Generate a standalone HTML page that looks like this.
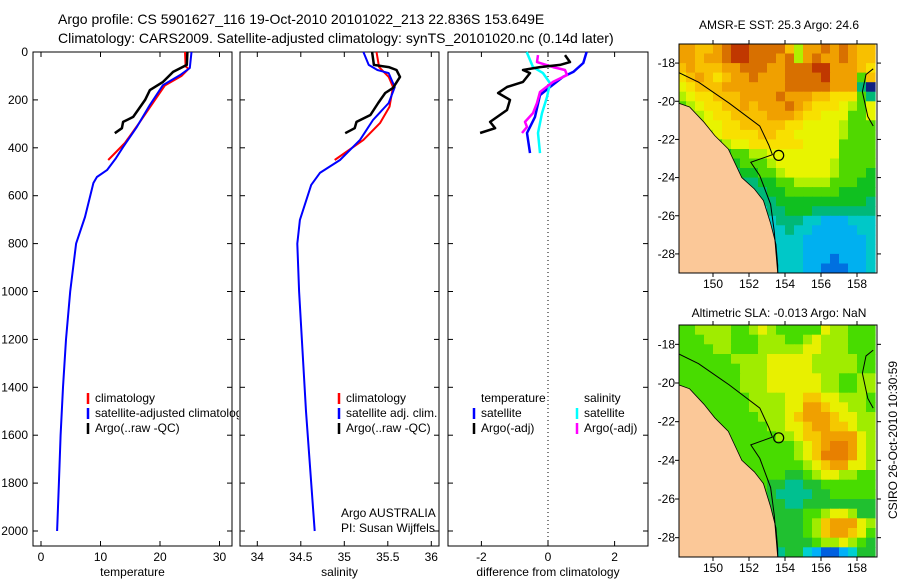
<!DOCTYPE html>
<html><head><meta charset="utf-8"><style>
html,body{margin:0;padding:0;background:#fff;}
svg{display:block;font-family:"Liberation Sans",sans-serif;}
</style></head><body>
<svg id="fig" width="900" height="580" viewBox="0 0 900 580" xmlns="http://www.w3.org/2000/svg">
<text x="58" y="24" font-size="14">Argo profile: CS 5901627_116 19-Oct-2010 20101022_213 22.836S 153.649E</text>
<text x="58" y="43" font-size="14">Climatology: CARS2009. Satellite-adjusted climatology: synTS_20101020.nc (0.14d later)</text>
<text x="779" y="29" font-size="12" text-anchor="middle">AMSR-E SST: 25.3 Argo: 24.6</text>
<text x="779" y="317" font-size="12" text-anchor="middle">Altimetric SLA: -0.013 Argo: NaN</text>
<text transform="translate(897,440) rotate(-90)" font-size="12" text-anchor="middle">CSIRO 26-Oct-2010 10:30:59</text>
<g id="layer"></g>
</svg>
<script>
// ---- profile data ----
const depthTicks = [0,200,400,600,800,1000,1200,1400,1600,1800,2000];
const tempTicks = [0,10,20,30];
const salTicks = [34,34.5,35,35.5,36];
const diffTicks = [-2,0,2];
const tempClimDepth = [0,60,70,100,140,220,300,380,451];
const tempClimVal = [24.2,24.3,24.8,23.6,20.8,18.6,16.4,14.1,11.3];
const tempSatDepth = [0,67,96,138,221,313,397,443,493,522,547,689,800,1000,1200,1400,1600,1800,2000];
const tempSatVal = [25.3,25.0,23.4,20.5,18.3,16.1,13.8,12.6,11.1,9.4,8.8,7.4,5.9,4.9,4.2,3.7,3.3,3.0,2.7];
const tempArgoDepth = [0,54,83,125,159,200,271,292,318,339];
const tempArgoVal = [24.6,24.5,22.2,20.5,18.3,17.5,15.5,13.8,13.6,12.4];
const salClimDepth = [0,63,104,146,229,297,367,451];
const salClimVal = [35.37,35.4,35.51,35.56,35.52,35.41,35.22,34.89];
const salSatDepth = [0,54,75,88,130,146,213,284,367,451,505,555,701,800,1000,1500,2000];
const salSatVal = [35.22,35.28,35.38,35.51,35.56,35.58,35.51,35.33,35.18,34.95,34.72,34.62,34.49,34.46,34.48,34.56,34.66];
const salArgoDepth = [0,54,63,75,104,150,171,213,263,292,318,339];
const salArgoVal = [35.32,35.34,35.51,35.6,35.64,35.56,35.47,35.39,35.3,35.14,35.12,35.01];
const dTempSatDepth = [0,46,83,104,146,180,271,338,422];
const dTempSatVal = [1.16,1.06,0.76,0.45,0.06,-0.24,-0.39,-0.63,-0.54];
const dSalSatDepth = [0,63,88,130,188,255,338,422];
const dSalSatVal = [-0.64,-0.45,-0.15,0.06,-0.03,-0.18,-0.3,-0.24];
const dSalArgoDepth = [13,42,63,75,96,125,167,213,255,292,313,338];
const dSalArgoVal = [-0.3,-0.33,0.15,0.51,0.57,0.15,-0.24,-0.33,-0.45,-0.69,-0.63,-0.78];
const dTempArgoDepth = [13,42,54,63,75,88,125,146,171,200,242,292,318,338];
const dTempArgoVal = [0.51,0.66,0.36,-0.24,-0.75,-0.54,-0.75,-1.23,-1.5,-1.14,-1.23,-1.74,-1.59,-2.04];
// ---- map data (0.5 deg cells, lon 148..159, lat -17..-29) ----
const mapLonTicks = [150,152,154,156,158];
const mapLatTicks = [-18,-20,-22,-24,-26,-28];
const argoLon = 153.649, argoLat = -22.836;
const sstGrid = [
"ccddcbaabbbbdgccbcbcdd","ccdccbaabbbcbgcbccbcdd","dcdddccbbbccbbbaacccde","edcdedccbcccbbbbaccchd",
"fedddcccccccbbbbbcccjn","gfeedddccccbcccddeeehj","hgfeeddcdcccbcdeeefghf","hggfeeddddcccdeefffhhf",
"hhgffeedddddeeffffghhh","hhhgfeeeeddeefffffghhh","hhhhhgffeeeeeeffffhhhh","iiiiiihhggffffffffhhhh",
"iiiiiiihhhgffffffghhhh","jjjjjjjiihhgfffffghhhi","jjjjjjjjjiihhgggghhhii","kkkkkjjjjjiihhhhhhiiii",
"kkkkkkkkkjjiiiiiiiiiij","kkkkkkkkkkjjiiijjjjjjj","kkkkkkkkkkkjjjkklllkkk","kkkkkkkkkkkkjkklllllkk",
"kkkkkkkkkkkkkklllllllk","kkkkkkkkkkkkkklllllllk","kkkkkkkkkkkkkklllmlllk","kkkkkkkkkkkkkkllmmmllk"];
const slaGrid = [
"hhgggghhgfghhhhhfgghhh","hhhggghhhggghhgfggghhh","hhhhgghhhgggggffggghhh","hhhhhhggggfffffggggghh",
"hhhhhhhgggfffffggggghh","hhhhhhhgggffffffgghhgg","hhhhhhhgggffffffgghhgg","hhhhhhhhggggffeeffgggh",
"hhhhhhhhggggffddeffggh","hhhhhhhhhgggfedddeffgg","hhhhhhhhhhggffeddeefgg","hhhhhhhhhhhggfeeddddfg",
"hhhhhhhhhhhhhgfedccdfg","hhhhhhhhhhhhhgfecccdfg","hhhhhhhhhhhhhhgfeddffg","hhhhhhhhhhhhiihgffgghh",
"hhhhhhhhhhiijjiihhhhhh","hhhhhhhhhhijjjjiihhhhh","hhhhhhhhhhiijjiiiiiiii","hhhhhhhhhhiiiihhgffgii",
"hhhhhhhhhhiiiihgedddfg","hhhhhhhhhhiiiihgeddefh","hhhhhhhhhhiiiiihggfghi","hhhhhhhhhhijiiklmmlkii"];
const coastLon = [147.5,148.1,148.7,149.5,150.1,150.85,151.6,152.3,152.8,153.2,153.5,153.6,153.6];
const coastLat = [-20.0,-20.1,-20.3,-21.1,-21.8,-22.5,-24.0,-24.6,-25.2,-26.4,-27.5,-28.6,-29.2];
const contourLon = [148.1,149.2,150.9,152.6,153.1,153.3,152.1,152.6,153.2,153.4,153.6];
const contourLat = [-18.5,-19.0,-20.1,-21.3,-22.3,-22.8,-23.2,-23.9,-25.4,-26.8,-29.0];

const palette = {a:'#c03800',b:'#d87000',c:'#f0a000',d:'#f8c000',e:'#f8e000',f:'#e8f400',g:'#b0f000',h:'#50d800',i:'#10c020',j:'#00b878',k:'#00c8c8',l:'#00b0f0',m:'#0070e0',n:'#102080'};
const slaPalette = {c:'#e88000',d:'#f0a000',e:'#f5c800',f:'#e8f000',g:'#a0ec00',h:'#48dc00',i:'#20c030',j:'#00c090',k:'#00d0d0',l:'#00b0f8',m:'#0060e0'};

const NS='http://www.w3.org/2000/svg';
const layer=document.getElementById('layer');
function mk(tag,attrs,parent){const e=document.createElementNS(NS,tag);for(const k in attrs)e.setAttribute(k,attrs[k]);(parent||layer).appendChild(e);return e;}
function txt(x,y,s,anchor,size,parent){const t=mk('text',{x:x,y:y,'font-size':size||12,'text-anchor':anchor||'start'},parent);t.textContent=s;return t;}

const yTop=52, yScale=0.2395;
function yD(d){return yTop+d*yScale;}
const panels=[
 {name:'temperature',x0:33,x1:232,v0:41,k:5.95,base:0,ticks:tempTicks,label:'temperature'},
 {name:'salinity',x0:240,x1:439,v0:257.3,k:87,base:34,ticks:salTicks,label:'salinity'},
 {name:'difference',x0:448,x1:648,v0:548,k:33.3,base:0,ticks:diffTicks,label:'difference from climatology'}
];
const pBottom=546;
panels.forEach((p,pi)=>{
 const g=mk('g',{});
 
 
 p.xv=v=>p.v0+(v-p.base)*p.k;
 mk('rect',{x:p.x0,y:yTop,width:p.x1-p.x0,height:pBottom-yTop,fill:'#fff',stroke:'#000','stroke-width':1},g);
 p.ticks.forEach(t=>{const x=p.xv(t);
  mk('line',{x1:x,x2:x,y1:yTop,y2:yTop+5,stroke:'#000'},g);
  mk('line',{x1:x,x2:x,y1:pBottom,y2:pBottom-5,stroke:'#000'},g);
  const tl=txt(x,561,String(t),'middle',12,g);
  
  
 });
 depthTicks.forEach(d=>{const y=yD(d);
  mk('line',{x1:p.x0,x2:p.x0+5,y1:y,y2:y,stroke:'#000'},g);
  mk('line',{x1:p.x1,x2:p.x1-5,y1:y,y2:y,stroke:'#000'},g);
  if(pi===0){const tl=txt(28,y+4,String(d),'end',12,g);
   
   }
 });
 const xl=txt((p.x0+p.x1)/2,576,p.label,'middle',12,g);
 
 
});
function series(p,depths,vals,color,w,name){
 const pts=depths.map((d,i)=>p.xv(vals[i]).toFixed(1)+','+yD(d).toFixed(1)).join(' ');
 const pl=mk('polyline',{points:pts,fill:'none',stroke:color,'stroke-width':w,'stroke-linejoin':'round'});
 
 
}
const [P1,P2,P3]=panels;
const zl=mk('line',{x1:P3.xv(0),x2:P3.xv(0),y1:yTop,y2:pBottom,stroke:'#000','stroke-dasharray':'1,3'});


series(P1,tempClimDepth,tempClimVal,'#f00',2,'temp-climatology-line');
series(P1,tempSatDepth,tempSatVal,'#00f',2,'temp-satellite-line');
series(P1,tempArgoDepth,tempArgoVal,'#000',2.5,'temp-argo-line');
series(P2,salClimDepth,salClimVal,'#f00',2,'sal-climatology-line');
series(P2,salSatDepth,salSatVal,'#00f',2,'sal-satellite-line');
series(P2,salArgoDepth,salArgoVal,'#000',2.5,'sal-argo-line');
series(P3,dTempSatDepth,dTempSatVal,'#00f',2.5,'diff-temp-satellite-line');
series(P3,dSalSatDepth,dSalSatVal,'#0ff',2.5,'diff-sal-satellite-line');
series(P3,dSalArgoDepth,dSalArgoVal,'#f0f',2.5,'diff-sal-argo-line');
series(P3,dTempArgoDepth,dTempArgoVal,'#000',2.5,'diff-temp-argo-line');

// legends
function leg(x,y,color,label,name){
 const g=mk('g',{});
 
 
 if(color) mk('line',{x1:x,x2:x,y1:y-9,y2:y+2,stroke:color,'stroke-width':2.5},g);
 txt(x+7,y,label,'start',12,g);
}
const clip=mk('clipPath',{id:'c1'});mk('rect',{x:0,y:0,width:239,height:580},clip);
leg(88,402,'#f00','climatology','legend-climatology');
leg(88,417,'#00f','satellite-adjusted climatology','legend-satellite');
layer.lastChild.setAttribute('clip-path','url(#c1)');
leg(88,432,'#000','Argo(..raw -QC)','legend-argo');
leg(339,402,'#f00','climatology','legend-climatology-2');
leg(339,417,'#00f','satellite adj. clim.','legend-satellite-2');
leg(339,432,'#000','Argo(..raw -QC)','legend-argo-2');
leg(474,402,null,'temperature','legend-temperature-header');
leg(577,402,null,'salinity','legend-salinity-header');
leg(474,417,'#00f','satellite','legend-temp-satellite');
leg(577,417,'#0ff','satellite','legend-sal-satellite');
leg(474,432,'#000','Argo(-adj)','legend-temp-argo');
leg(577,432,'#f0f','Argo(-adj)','legend-sal-argo');
const a1=txt(341,517,'Argo AUSTRALIA','start',12);


const a2=txt(341,532,'PI: Susan Wijffels','start',12);



// maps
function drawMap(top,bottom,grid,pal,name,showLon){
 const x0=679,x1=877;
 const lonX=lon=>713+(lon-150)*18;
 const latY=lat=>top+(-17-lat)*((bottom-top)/12);
 const g=mk('g',{});
 
 
 const cp=mk('clipPath',{id:name+'-clip'},g);mk('rect',{x:x0,y:top,width:x1-x0,height:bottom-top},cp);
 const inner=mk('g',{'clip-path':'url(#'+name+'-clip)'},g);
 grid.forEach((row,r)=>{for(let c=0;c<row.length;c++){
  const lon=148+c*0.5, lat=-17-r*0.5;
  const xa=lonX(lon), ya=latY(lat);
  const cell=mk('rect',{x:xa.toFixed(1),y:ya.toFixed(1),width:(lonX(lon+0.5)-xa+0.6).toFixed(1),height:(latY(lat-0.5)-ya+0.6).toFixed(1),fill:pal[row[c]]},inner);
  
  
 }});
 const landPts=coastLon.map((lo,i)=>lonX(lo).toFixed(1)+','+latY(coastLat[i]).toFixed(1));
 landPts.push(lonX(147.5)+','+latY(-29.5));
 const land=mk('polygon',{points:landPts.join(' '),fill:'#fbc898',stroke:'#000','stroke-width':0.8},inner);
 
 
 const cont=mk('polyline',{points:contourLon.map((lo,i)=>lonX(lo).toFixed(1)+','+latY(contourLat[i]).toFixed(1)).join(' '),fill:'none',stroke:'#000','stroke-width':1},inner);
 
 
 mk('polyline',{points:[[158.9,-18.3],[158.5,-18.6],[158.3,-19.5],[158.6,-20.8],[158.9,-21.3]].map(p=>lonX(p[0])+','+latY(p[1])).join(' '),fill:'none',stroke:'#000'},inner);
 const dot=mk('circle',{cx:lonX(argoLon),cy:latY(argoLat),r:5,fill:'none',stroke:'#000','stroke-width':1.2},inner);
 
 
 mk('rect',{x:x0,y:top,width:x1-x0,height:bottom-top,fill:'none',stroke:'#000'},g);
 mapLatTicks.forEach(l=>{const y=latY(l);
  mk('line',{x1:x0,x2:x0-4,y1:y,y2:y,stroke:'#000'},g);
  mk('line',{x1:x1,x2:x1+4,y1:y,y2:y,stroke:'#000'},g);
  const t=txt(675,y+4,String(l),'end',12,g);
  
  
 });
 mapLonTicks.forEach(l=>{const x=lonX(l);
  mk('line',{x1:x,x2:x,y1:bottom,y2:bottom+4,stroke:'#000'},g);
  mk('line',{x1:x,x2:x,y1:top,y2:top-4,stroke:'#000'},g);
  if(showLon){const t=txt(x,bottom+15,String(l),'middle',12,g);
   
   }
 });
}
drawMap(44,273,sstGrid,palette,'sst-map',true);
drawMap(325,557,slaGrid,slaPalette,'sla-map',true);
</script>
</body></html>
